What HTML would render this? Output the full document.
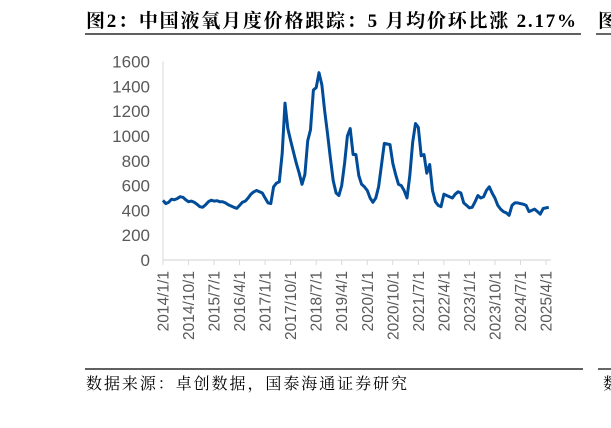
<!DOCTYPE html>
<html><head><meta charset="utf-8"><style>
html,body{margin:0;padding:0;background:#fff;width:611px;height:428px;overflow:hidden}
svg{display:block}
</style></head><body>
<svg id="chart" width="611" height="428" xmlns="http://www.w3.org/2000/svg">
<text x="86" y="27" textLength="490" lengthAdjust="spacing" font-family="'Liberation Serif','Noto Serif CJK SC',serif" font-weight="bold" font-size="19" fill="#000">图2：中国液氧月度价格跟踪：5 月均价环比涨 2.17%</text>
<line x1="85" y1="34" x2="581" y2="34" stroke="#000" stroke-width="1.2"/>
<text x="598" y="27" font-family="'Liberation Serif','Noto Serif CJK SC',serif" font-weight="bold" font-size="19" fill="#000">图</text>
<line x1="596" y1="34" x2="611" y2="34" stroke="#000" stroke-width="1.2"/>
<g id="yaxis"></g>
<g id="xaxis"></g>
<path id="line" fill="none" stroke="#004c99" stroke-width="3" stroke-linejoin="round"/>
<line x1="85" y1="369" x2="583" y2="369" stroke="#000" stroke-width="1.2"/>
<line x1="598" y1="369" x2="611" y2="369" stroke="#000" stroke-width="1.2"/>
<text x="86" y="389" textLength="321" lengthAdjust="spacing" font-family="'Liberation Serif','Noto Serif CJK SC',serif" font-size="16" fill="#000">数据来源：卓创数据，国泰海通证券研究</text>
<text x="603" y="389" font-family="'Liberation Serif','Noto Serif CJK SC',serif" font-size="16" fill="#000">数</text>
</svg>
<script>
const yTicks = [0,200,400,600,800,1000,1200,1400,1600];
const xTickLabels = ["2014/1/1","2014/10/1","2015/7/1","2016/4/1","2017/1/1","2017/10/1","2018/7/1","2019/4/1","2020/1/1","2020/10/1","2021/7/1","2022/4/1","2023/1/1","2023/10/1","2024/7/1","2025/4/1"];
const xTickMonths = [0,9,18,27,36,45,54,63,72,81,90,99,108,117,126,135];
const prices = [
480,455,465,490,485,495,510,505,485,470,475,465,
450,430,425,445,470,482,475,478,470,470,460,445,
435,425,416,440,465,475,500,530,550,560,550,540,
500,460,455,590,620,630,860,1265,1060,960,870,780,
700,610,690,960,1050,1370,1390,1510,1410,1200,1020,820,
640,540,520,600,780,1000,1060,850,850,680,610,590,
560,500,465,500,590,760,940,935,930,780,690,610,
600,560,500,680,950,1100,1070,840,850,700,770,560,
470,440,430,530,520,510,500,530,550,540,460,440,
420,425,470,520,500,510,560,590,540,500,440,410,
390,380,360,440,460,460,455,450,440,390,400,410,
390,370,415,420,425
];
const NS="http://www.w3.org/2000/svg";
const X0=163, PXM=2.837, Y0=260, PXV=(260-61.5)/1600;
function xs(m){return X0+PXM*m;}
function ys(v){return Y0-PXV*v;}
const ya=document.getElementById('yaxis'), xa=document.getElementById('xaxis');
yTicks.forEach(t=>{
  const tx=document.createElementNS(NS,'text');
  tx.setAttribute('x',150);tx.setAttribute('y',ys(t)+6);
  tx.setAttribute('text-anchor','end');tx.setAttribute('font-family','Liberation Sans, sans-serif');
  tx.setAttribute('font-size','17');tx.setAttribute('fill','#595959');
  tx.textContent=t;
  
  
  ya.appendChild(tx);
});
const vl=document.createElementNS(NS,'line');
vl.setAttribute('x1',X0);vl.setAttribute('x2',X0);vl.setAttribute('y1',ys(1600));vl.setAttribute('y2',Y0);
vl.setAttribute('stroke','#d9d9d9');vl.setAttribute('stroke-width','1');


ya.appendChild(vl);
const hl=document.createElementNS(NS,'line');
hl.setAttribute('x1',X0);hl.setAttribute('x2',551);hl.setAttribute('y1',Y0);hl.setAttribute('y2',Y0);
hl.setAttribute('stroke','#d9d9d9');hl.setAttribute('stroke-width','1.2');


xa.appendChild(hl);
xTickMonths.forEach((m,i)=>{
  const x=xs(m);
  const tk=document.createElementNS(NS,'line');
  tk.setAttribute('x1',x);tk.setAttribute('x2',x);tk.setAttribute('y1',Y0);tk.setAttribute('y2',Y0+5);
  tk.setAttribute('stroke','#d9d9d9');
  
  
  xa.appendChild(tk);
  const tx=document.createElementNS(NS,'text');
  tx.setAttribute('transform','translate('+(x+5.5)+',271) rotate(-90)');
  tx.setAttribute('text-anchor','end');tx.setAttribute('font-family','Liberation Sans, sans-serif');
  tx.setAttribute('font-size','15.5');tx.setAttribute('fill','#595959');
  tx.textContent=xTickLabels[i];
  
  
  xa.appendChild(tx);
});
document.getElementById('line').setAttribute('d',prices.map((v,i)=>(i?'L':'M')+xs(i).toFixed(1)+','+ys(v).toFixed(1)).join(''));
</script>
</body></html>
